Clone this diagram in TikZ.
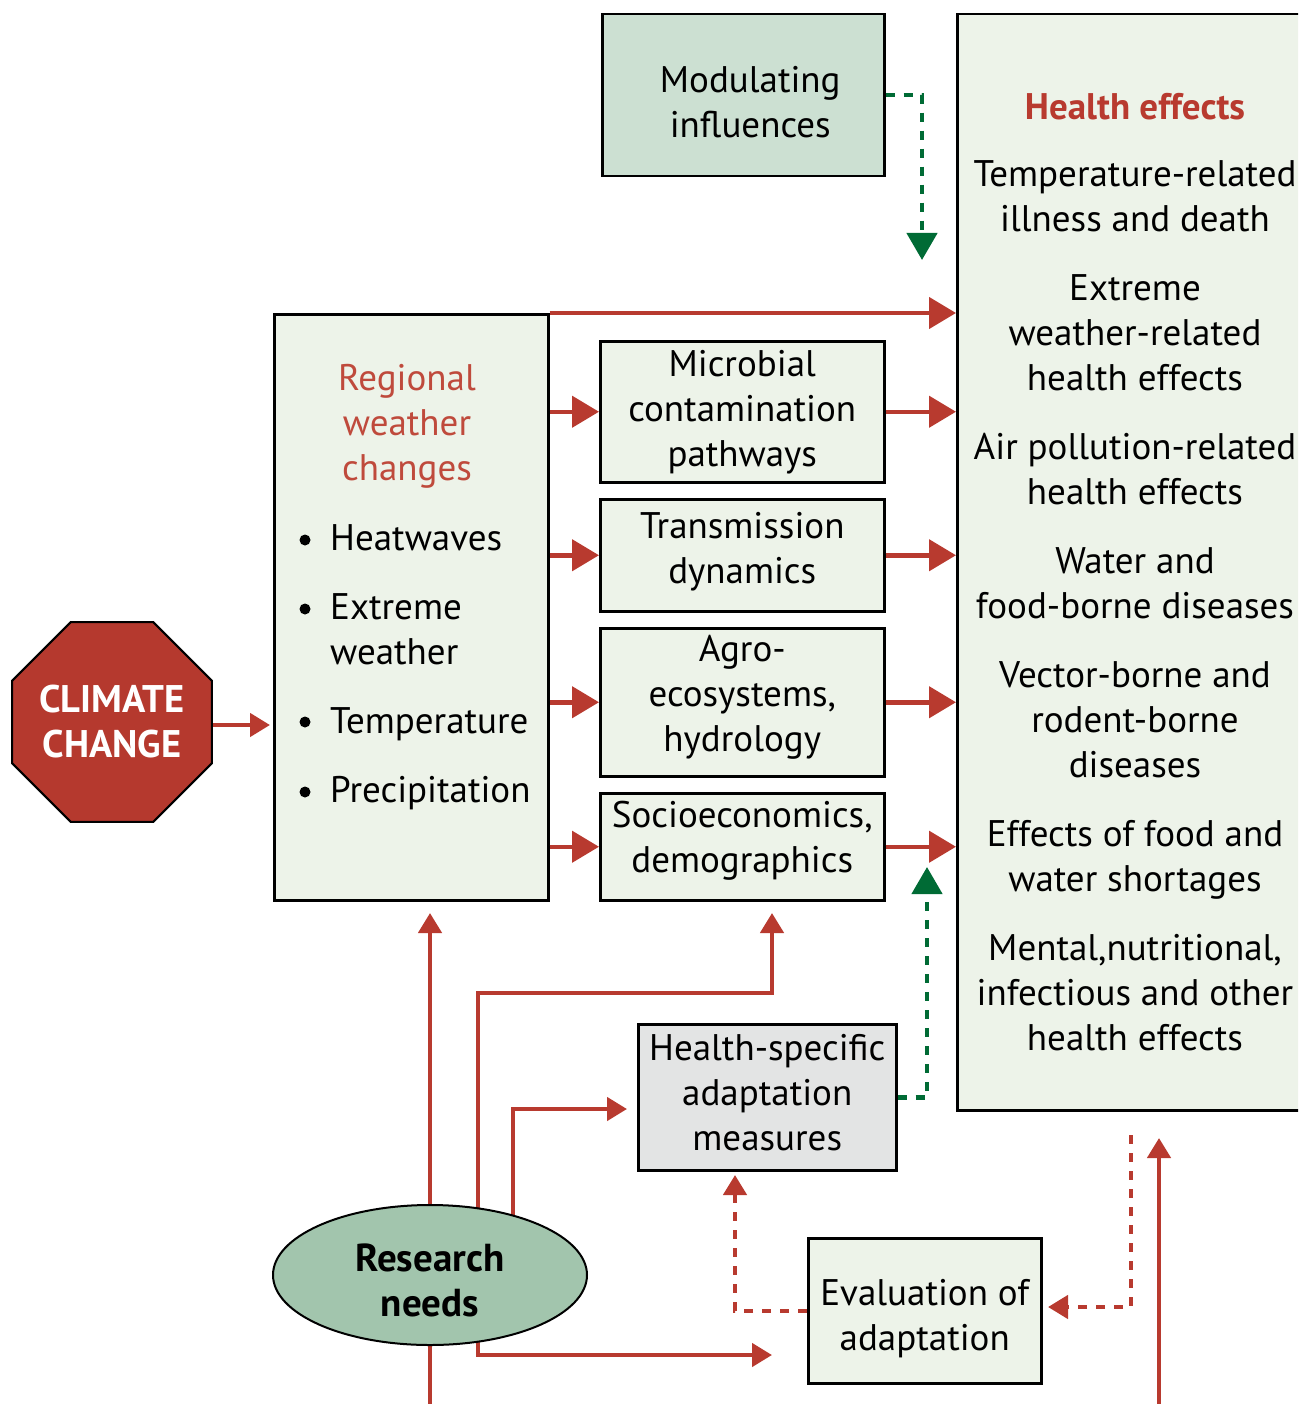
\documentclass[tikz,border=0pt]{standalone}
\usepackage{fontspec}
\setmainfont{PT Sans}
\usetikzlibrary{shapes.geometric,arrows.meta,backgrounds}
\definecolor{arred}{HTML}{B83A2F}
\definecolor{regred}{HTML}{BF4A3C}
\definecolor{dgreen}{HTML}{006B35}
\definecolor{modfill}{HTML}{CCE0D2}
\definecolor{lightfill}{HTML}{EDF3E9}
\definecolor{greyfill}{HTML}{E3E4E4}
\definecolor{ellfill}{HTML}{A2C5AD}
\definecolor{ccfill}{HTML}{B5392E}
\newcommand\myfs{\fontsize{37}{45}\selectfont}
\begin{document}
\begin{tikzpicture}[x=1pt,y=-1pt,
  box/.style={draw=black,line width=2.5pt,inner sep=0pt,anchor=north west},
  txt/.style={font=\myfs,align=center,inner sep=0pt},
  bigtip/.style={-{Triangle[length=27pt,width=31pt]}},
  smalltip/.style={-{Triangle[length=20pt,width=23pt]}},
  rline/.style={draw=arred,line width=4.5pt},
  rdash/.style={draw=arred,line width=4.5pt,dash pattern=on 9pt off 9pt},
  gdash/.style={draw=dgreen,line width=4.5pt,dash pattern=on 9pt off 9pt}]
\useasboundingbox (0,0) rectangle (1298,1404);
\clip (0,0) rectangle (1298,1404);
% boxes
\node[box,fill=modfill,minimum width=282,minimum height=162] (mod) at (601,13) {};
\node[txt] (modt) at ([xshift=7pt,yshift=-7pt]mod.center) {Modulating\\influences};
\node[box,fill=lightfill,minimum width=370,minimum height=1096] (he) at (956,13) {};
\node[txt,anchor=north] (het) at (1135,93) {{\color{arred}\bfseries Health effects}\\[22pt]
Temperature-related\\illness and death\\[24pt]
Extreme\\weather-related\\health effects\\[24pt]
Air pollution-related\\health effects\\[24pt]
Water and\\food-borne diseases\\[24pt]
Vector-borne and\\rodent-borne\\diseases\\[24pt]
Effects of food and\\water shortages\\[24pt]
Mental,nutritional,\\infectious and other\\health effects};
\node[box,fill=lightfill,minimum width=274,minimum height=586] (reg) at (273,313) {};
\node[txt,anchor=north,text=regred] (regt) at (407,364) {Regional\\weather\\changes};
\node[txt,anchor=base west] (b1) at (330,550) {Heatwaves};
\node[txt,anchor=base west,align=left] (b2) at (330,664) {Extreme\\weather};
\node[txt,anchor=base west] (b3) at (330,733) {Temperature};
\node[txt,anchor=base west] (b4) at (330,802) {Precipitation};
\foreach \yy in {540,609,722,792} \fill (305,\yy) circle (5.5);
\node[box,fill=lightfill,minimum width=284,minimum height=141] (mic) at (599,340) {};
\node[txt] (mict) at (mic.center) {Microbial\\contamination\\pathways};
\node[box,fill=lightfill,minimum width=284,minimum height=112] (tra) at (599,498) {};
\node[txt] (trat) at ([yshift=4pt]tra.center) {Transmission\\dynamics};
\node[box,fill=lightfill,minimum width=284,minimum height=148] (agr) at (599,627) {};
\node[txt] (agrt) at ([yshift=5pt]agr.center) {Agro-\\ecosystems,\\hydrology};
\node[box,fill=lightfill,minimum width=284,minimum height=107] (soc) at (599,792) {};
\node[txt] (soct) at ([yshift=6pt]soc.center) {Socioeconomics,\\demographics};
\node[box,fill=greyfill,minimum width=258,minimum height=146] (hs) at (637,1023) {};
\node[txt] (hst) at ([yshift=5pt]hs.center) {Health-specific\\adaptation\\measures};
\node[box,fill=lightfill,minimum width=233,minimum height=145] (ev) at (807,1237) {};
\node[txt] (evt) at ([yshift=-8pt]ev.center) {Evaluation of\\adaptation};
\node[draw=black,line width=2pt,fill=ellfill,ellipse,minimum width=314,minimum height=140,inner sep=0pt] (rn) at (430,1275) {};
\node[txt,font=\fontsize{39}{45}\selectfont\bfseries] (rnt) at ([yshift=-5pt]rn.center) {Research\\needs};
\node[draw=black,line width=2pt,fill=ccfill,regular polygon,regular polygon sides=8,minimum size=216,inner sep=0pt,outer sep=0pt] (cc) at (112,722) {};
\node[txt,text=white,font=\fontsize{38.5}{45}\selectfont\bfseries] (cct) at (cc.center) {CLIMATE\\CHANGE};
% coordinates
\coordinate (modend) at (922,260);
\coordinate (hsend) at (927,867);
\coordinate (regin) at (430,913);
\coordinate (rnbot) at (430,1410);
\coordinate (rnA) at (600,993);
\coordinate (socin) at (772,913);
\coordinate (hsin) at (627,1109);
\coordinate (evin) at (772,1355);
\coordinate (hsbot) at (735,1175);
\coordinate (hebot) at (1131,1135);
\coordinate (evR) at (1048,1307);
\coordinate (evS) at (1159,1410);
\coordinate (heS) at (1159,1138);
\coordinate (ccin) at (270,725);
\begin{scope}[on background layer]
\draw[rline] (rn.center) -- (rnbot);
\draw[rline,smalltip] (rn.center) -- (regin);
\draw[rline,smalltip] ([xshift=48pt]rn.center) |- (rnA) -| (socin);
\draw[rline,smalltip] ([xshift=83pt]rn.center) |- (hsin);
\draw[rline,smalltip] ([xshift=48pt]rn.center) |- (evin);
\draw[rline,smalltip] (cc.center |- ccin) -- (ccin);
\end{scope}
\draw[rline,bigtip] (reg.north east) -- (reg.north east -| he.west);
\draw[rline,bigtip] (reg.east |- mic.west) -- (mic.west);
\draw[rline,bigtip] (reg.east |- tra.west) -- (tra.west);
\draw[rline,bigtip] (reg.east |- agr.west) -- (agr.west);
\draw[rline,bigtip] (reg.east |- soc.west) -- (soc.west);
\draw[rline,bigtip] (mic.east) -- (mic.east -| he.west);
\draw[rline,bigtip] (tra.east) -- (tra.east -| he.west);
\draw[rline,bigtip] (agr.east) -- (agr.east -| he.west);
\draw[rline,bigtip] (soc.east) -- (soc.east -| he.west);
\draw[gdash,-{Triangle[length=27pt,width=30pt]}] (mod.east) -| (modend);
\draw[gdash,-{Triangle[length=27pt,width=30pt]}] (hs.east) -| (hsend);
\draw[rdash,smalltip] (ev.west) -| (hsbot);
\draw[rdash,smalltip] (hebot) |- (evR);
\draw[rline,smalltip] (evS) -- (heS);
\end{tikzpicture}
\end{document}
